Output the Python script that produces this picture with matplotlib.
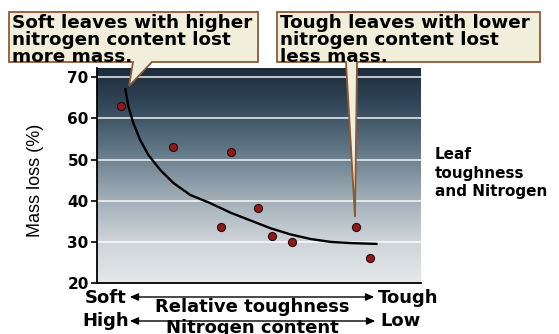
import matplotlib
matplotlib.use("Agg")
import matplotlib.pyplot as plt
import numpy as np
from matplotlib.colors import LinearSegmentedColormap
from matplotlib.patches import Polygon, FancyArrowPatch

plt.rcParams['font.family'] = ['DejaVu Sans']

# data (x = relative toughness, 0 soft .. 10 tough)
point_x = [0.73, 2.35, 4.14, 3.84, 4.97, 5.39, 6.01, 8.00, 8.44]
point_y = [63.1, 53.1, 51.8, 33.6, 38.2, 31.4, 29.9, 33.6, 26.1]

curve_x = [0.87, 0.97, 1.12, 1.33, 1.59, 1.95, 2.36, 2.88, 3.50, 4.12, 4.74,
           5.36, 5.98, 6.59, 7.21, 7.83, 8.66]
curve_y = [67.4, 62.9, 58.9, 54.8, 51.1, 47.5, 44.3, 41.4, 39.4, 37.1, 35.2,
           33.3, 31.8, 30.7, 30.0, 29.7, 29.5]

y_ticks = [20, 30, 40, 50, 60, 70]

note_soft = 'Soft leaves with higher\nnitrogen content lost\nmore mass.'
note_tough = 'Tough leaves with lower\nnitrogen content lost\nless mass.'
side_title = 'Leaf\ntoughness\nand Nitrogen'

W, H = 559, 334
fig = plt.figure(figsize=(W / 100, H / 100), dpi=100)
fig.patch.set_facecolor('white')


def fx(px):
    return px / W


def fy(py):
    return 1 - py / H


ax_l, ax_r, ax_t, ax_b = 97, 421, 68.3, 283
ax = fig.add_axes([fx(ax_l), fy(ax_b), fx(ax_r) - fx(ax_l), fy(ax_t) - fy(ax_b)])
ax.set_xlim(0, 10)
ax.set_ylim(20, 72.2)

# gradient background
cmap = LinearSegmentedColormap.from_list('bg', [
    (0.0, '#e6e8ea'), (0.2, '#cdd3d8'), (0.42, '#9aa8b2'),
    (0.62, '#627786'), (0.82, '#34495b'), (1.0, '#1c2c3c')])
grad = np.linspace(0, 1, 256).reshape(-1, 1)
ax.imshow(grad, cmap=cmap, origin='lower', aspect='auto',
          extent=[0, 10, 20, 72.2], zorder=0)

for yv in y_ticks[1:]:
    ax.axhline(yv, color='white', lw=1.2, alpha=0.85, zorder=1)

ax.plot(curve_x, curve_y, color='black', lw=1.7, zorder=3,
        solid_joinstyle='round', solid_capstyle='butt')
ax.scatter(point_x, point_y, s=34, color='#8c1c1c', edgecolor='#2a0a0a',
           linewidth=0.8, zorder=4)

ax.spines['top'].set_visible(False)
ax.spines['right'].set_visible(False)
ax.spines['left'].set_linewidth(1.3)
ax.spines['bottom'].set_linewidth(1.3)
ax.set_xticks([])
ax.set_yticks(y_ticks)
ax.tick_params(axis='y', length=4, width=1.2, pad=2, labelsize=11)
for lab in ax.get_yticklabels():
    lab.set_fontweight('bold')
ax.set_ylabel('Mass loss (%)', fontsize=13, family='Liberation Sans')
ax.yaxis.set_label_coords(-0.165, 0.48)


def callout(left, top, right, bottom, base_l, base_r, tip, text):
    pts = [(left, top), (right, top), (right, bottom), (base_r, bottom),
           tip, (base_l, bottom), (left, bottom)]
    poly = Polygon([(fx(x), fy(y)) for x, y in pts], closed=True,
                   transform=fig.transFigure, facecolor='#f1eedc',
                   edgecolor='#8a5a3a', lw=1.3, zorder=5)
    fig.patches.append(poly)
    fig.text(fx(left + 3), fy(14), text, ha='left', va='top',
             fontsize=13.2, fontweight='bold', linespacing=0.92, zorder=6)


callout(9, 12, 258, 62, 133, 152, (129, 86), note_soft)
callout(277, 12, 540, 62, 346, 357, (355, 217), note_tough)

fig.text(fx(435), fy(147), side_title, ha='left', va='top',
         fontsize=11, fontweight='bold', linespacing=1.3)

# bottom axis descriptions
bold = dict(fontsize=13, fontweight='bold', va='baseline')
fig.text(fx(85), fy(303), 'Soft', ha='left', **bold)
fig.text(fx(378), fy(303), 'Tough', ha='left', **bold)
fig.text(fx(252), fy(312), 'Relative toughness', ha='center', **bold)
fig.text(fx(82), fy(326), 'High', ha='left', **bold)
fig.text(fx(380), fy(326), 'Low', ha='left', **bold)
fig.text(fx(252), fy(333), 'Nitrogen content', ha='center', **bold)

for y, x0, x1 in [(297, 127, 377), (321, 127, 378)]:
    arr = FancyArrowPatch((fx(x0), fy(y)), (fx(x1), fy(y)), transform=fig.transFigure,
                          arrowstyle='<|-|>,head_length=5,head_width=2.2',
                          color='black', lw=1.0, mutation_scale=1)
    fig.patches.append(arr)

fig.savefig('out.png', dpi=100)
